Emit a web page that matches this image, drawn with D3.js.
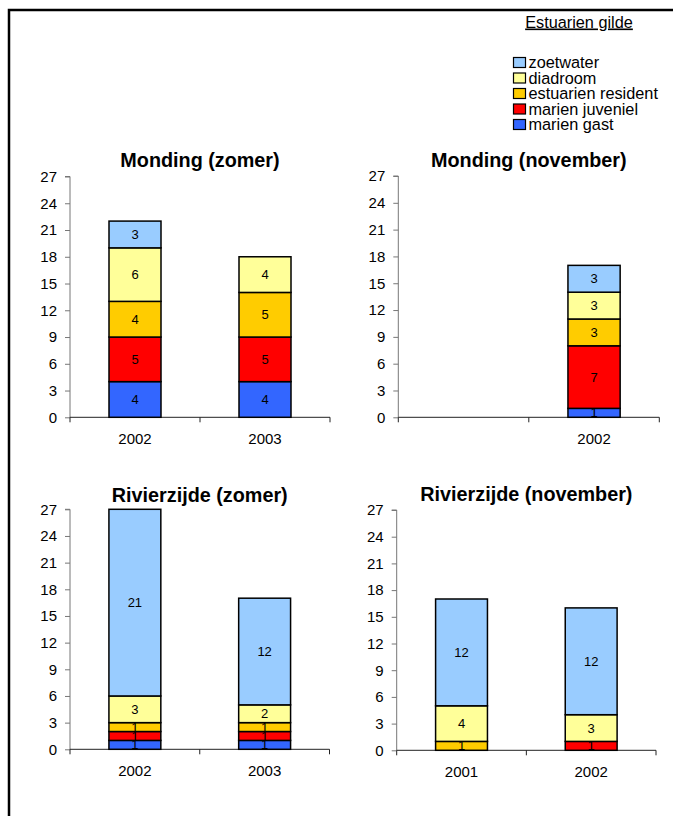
<!DOCTYPE html>
<html>
<head>
<meta charset="utf-8">
<script src="https://cdn.jsdelivr.net/npm/d3@7"></script>
<style>
  html, body { margin: 0; padding: 0; background: #fff; }
  svg { display: block; font-family: "Liberation Sans", Arial, sans-serif; }
</style>
</head>
<body>
<svg id="chart" width="678" height="816"></svg>
<script>
// Guild groups, stacked bottom to top
const guilds = ["marien gast", "marien juveniel", "estuarien resident", "diadroom", "zoetwater"];
const guildColors = ["#3366FF", "#FF0000", "#FFCC00", "#FFFF99", "#99CCFF"];

// Panel titles and their year categories
const panelTitles = ["Monding (zomer)", "Monding (november)", "Rivierzijde (zomer)", "Rivierzijde (november)"];
const mondingZomerYears = ["2002", "2003"];
const mondingNovemberYears = ["", "2002"];
const rivierzijdeZomerYears = ["2002", "2003"];
const rivierzijdeNovemberYears = ["2001", "2002"];

// Species counts per year, in guild order
const mondingZomer = [[4, 5, 4, 6, 3], [4, 5, 5, 4, 0]];
const mondingNovember = [[0, 0, 0, 0, 0], [1, 7, 3, 3, 3]];
const rivierzijdeZomer = [[1, 1, 1, 3, 21], [1, 1, 1, 2, 12]];
const rivierzijdeNovember = [[0, 0, 1, 4, 12], [0, 1, 0, 3, 12]];

const yTicks = [0, 3, 6, 9, 12, 15, 18, 21, 24, 27];
const legendTitle = "Estuarien gilde";

const panels = [
  { title: panelTitles[0], years: mondingZomerYears, values: mondingZomer,
    x0: 70, x1: 330, yBottom: 417.3, yTop: 176.5, titleY: 166.5 },
  { title: panelTitles[1], years: mondingNovemberYears, values: mondingNovember,
    x0: 398.3, x1: 659.3, yBottom: 417.3, yTop: 176, titleY: 166.5 },
  { title: panelTitles[2], years: rivierzijdeZomerYears, values: rivierzijdeZomer,
    x0: 70, x1: 329.5, yBottom: 749.3, yTop: 509.3, titleY: 501.5 },
  { title: panelTitles[3], years: rivierzijdeNovemberYears, values: rivierzijdeNovember,
    x0: 396.7, x1: 656, yBottom: 750.3, yTop: 510, titleY: 500.8 }
];

const svg = d3.select("#chart");

// Outer frame (top and left edges)
svg.append("path")
  .attr("d", "M9 816 V10 H673")
  .attr("fill", "none")
  .attr("stroke", "#000")
  .attr("stroke-width", 2.5);

panels.forEach(p => {
  const g = svg.append("g");
  const x = d3.scaleBand().domain(d3.range(p.years.length)).range([p.x0, p.x1]).paddingInner(0).paddingOuter(0);
  const y = d3.scaleLinear().domain([0, 27]).range([p.yBottom, p.yTop]);
  const barW = x.bandwidth() * 0.4;

  // title
  g.append("text")
    .attr("x", (p.x0 + p.x1) / 2)
    .attr("y", p.titleY)
    .attr("text-anchor", "middle")
    .attr("font-size", 19.8)
    .attr("font-weight", "bold")
    .text(p.title);

  // y axis
  const yAxis = g.append("g")
    .attr("transform", `translate(${p.x0},0)`)
    .call(d3.axisLeft(y).tickValues(yTicks).tickSize(5).tickPadding(8).tickFormat(d3.format("d")));
  yAxis.select(".domain").attr("stroke", "#777").attr("d", `M-5,${p.yTop}H0V${p.yBottom}`);
  yAxis.selectAll(".tick line").attr("stroke", "#777");
  yAxis.selectAll("text").attr("font-size", 15).attr("fill", "#000")
    .attr("font-family", "\"Liberation Sans\", Arial, sans-serif");

  // x axis: tick marks on category boundaries, labels at centres
  const boundaries = d3.range(p.years.length + 1).map(i => i < p.years.length ? x(i) : x(i - 1) + x.bandwidth());
  g.append("line")
    .attr("x1", p.x0).attr("x2", p.x1)
    .attr("y1", p.yBottom).attr("y2", p.yBottom)
    .attr("stroke", "#222").attr("stroke-width", 1);
  g.selectAll("line.xb").data(boundaries).join("line")
    .attr("class", "xb")
    .attr("x1", d => d).attr("x2", d => d)
    .attr("y1", p.yBottom).attr("y2", p.yBottom + 5)
    .attr("stroke", "#222");
  g.selectAll("text.xl").data(p.years).join("text")
    .attr("class", "xl")
    .attr("x", (d, i) => x(i) + x.bandwidth() / 2)
    .attr("y", p.yBottom + 26.5)
    .attr("text-anchor", "middle")
    .attr("font-size", 15)
    .text(d => d);

  // stacked bars
  p.values.forEach((vals, i) => {
    const cx = x(i) + x.bandwidth() / 2;
    let cum = 0;
    const segs = vals.map((v, k) => {
      const s = { k, v, lo: cum, hi: cum + v };
      cum += v;
      return s;
    }).filter(s => s.v > 0);

    const bg = g.append("g");
    bg.selectAll("rect").data(segs).join("rect")
      .attr("x", cx - barW / 2)
      .attr("width", barW)
      .attr("y", s => y(s.hi))
      .attr("height", s => y(s.lo) - y(s.hi))
      .attr("fill", s => guildColors[s.k])
      .attr("stroke", "#000")
      .attr("stroke-width", 1.5);
    bg.selectAll("text").data(segs).join("text")
      .attr("x", cx)
      .attr("y", s => (y(s.lo) + y(s.hi)) / 2)
      .attr("dy", "0.35em")
      .attr("text-anchor", "middle")
      .attr("font-size", 13)
      .text(s => s.v);
  });
});

// legend
const lg = svg.append("g");
lg.append("text")
  .attr("x", 579)
  .attr("y", 27.5)
  .attr("text-anchor", "middle")
  .attr("font-size", 16.3)
  .attr("text-decoration", "underline")
  .text(legendTitle);

const legendOrder = d3.range(guilds.length).reverse();
legendOrder.forEach((k, row) => {
  const cy = 62.5 + row * 15.5;
  lg.append("rect")
    .attr("x", 513.5).attr("y", cy - 5)
    .attr("width", 12).attr("height", 10)
    .attr("fill", guildColors[k])
    .attr("stroke", "#000").attr("stroke-width", 1.2);
  lg.append("text")
    .attr("x", 528.5)
    .attr("y", cy)
    .attr("dy", "0.36em")
    .attr("font-size", 16.3)
    .text(guilds[k]);
});
</script>
</body>
</html>
